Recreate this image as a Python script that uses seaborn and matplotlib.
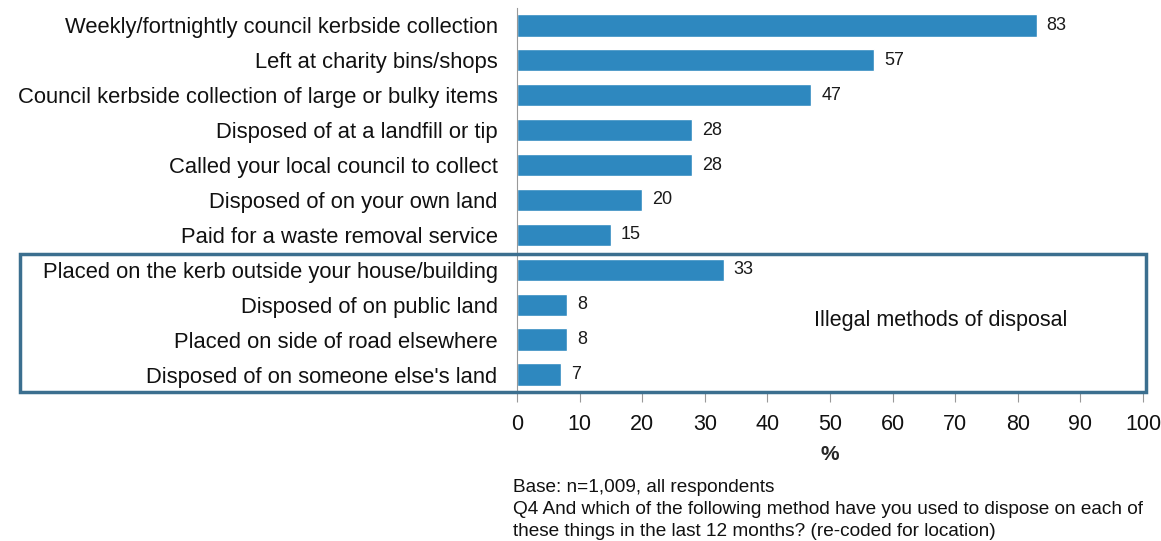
import numpy as np
import pandas as pd
import matplotlib
matplotlib.use("Agg")
import matplotlib.pyplot as plt
import matplotlib.transforms as mtransforms
from matplotlib.patches import Rectangle
import seaborn as sns

methods = [
    "Weekly/fortnightly council kerbside collection",
    "Left at charity bins/shops",
    "Council kerbside collection of large or bulky items",
    "Disposed of at a landfill or tip",
    "Called your local council to collect",
    "Disposed of on your own land",
    "Paid for a waste removal service",
    "Placed on the kerb outside your house/building",
    "Disposed of on public land",
    "Placed on side of road elsewhere",
    "Disposed of on someone else's land",
]
percent = [83, 57, 47, 28, 28, 20, 15, 33, 8, 8, 7]
x_ticks = [0, 10, 20, 30, 40, 50, 60, 70, 80, 90, 100]

df = pd.DataFrame({"method": methods, "percent": percent})

sns.set_style("white")
plt.rcParams["font.family"] = ["Liberation Sans", "DejaVu Sans"]

fig = plt.figure(figsize=(11.61, 5.41), dpi=100)
ax = fig.add_axes([0.4453, 0.2754, 0.5392, 0.7100])

sns.barplot(data=df, x="percent", y="method", orient="h", color="#2E88BF",
            width=0.64, saturation=1, ax=ax)

# value labels next to the bars
for i, v in enumerate(percent):
    ax.text(v + 1.6, i, str(v), va="center", ha="left", fontsize=13, color="#1a1a1a")

ax.set_xlim(0, 100)
ax.set_ylim(10.5, -0.5)
ax.set_xticks(x_ticks)
ax.set_xticklabels([str(t) for t in x_ticks], fontsize=15.5)
ax.set_xlabel("%", fontsize=15, fontweight="bold", labelpad=7)
ax.set_ylabel("")
ax.tick_params(axis="y", which="major", length=0, labelsize=15.8, pad=14, labelcolor="#111111")
ax.set_yticks(np.arange(-0.5, 11, 1), minor=True)
ax.tick_params(axis="y", which="minor", length=7, color="#999999", direction="out")
ax.tick_params(axis="x", which="major", length=7, color="#999999", direction="out",
               bottom=True, pad=9, labelcolor="#111111")

sns.despine(ax=ax, top=True, right=True)
ax.spines["left"].set_color("#999999")
ax.spines["bottom"].set_color("#999999")

# box around the illegal methods
trans = mtransforms.blended_transform_factory(fig.transFigure, ax.transData)
box = Rectangle((20 / 1161, 6.55), (1146 - 20) / 1161, 3.95, transform=trans,
                fill=False, edgecolor="#3B6F8F", linewidth=2.5, clip_on=False, zorder=5)
fig.add_artist(box)
ax.text(47.5, 8.45, "Illegal methods of disposal", fontsize=15.5, ha="left", va="center",
        color="#111111")

fig.text(513 / 1161, 1 - 479 / 541,
         "Base: n=1,009, all respondents\n"
         "Q4 And which of the following method have you used to dispose on each of\n"
         "these things in the last 12 months? (re-coded for location)",
         fontsize=13.7, ha="left", va="top", linespacing=1.38, color="#111111")

fig.savefig("out.png", dpi=100)
